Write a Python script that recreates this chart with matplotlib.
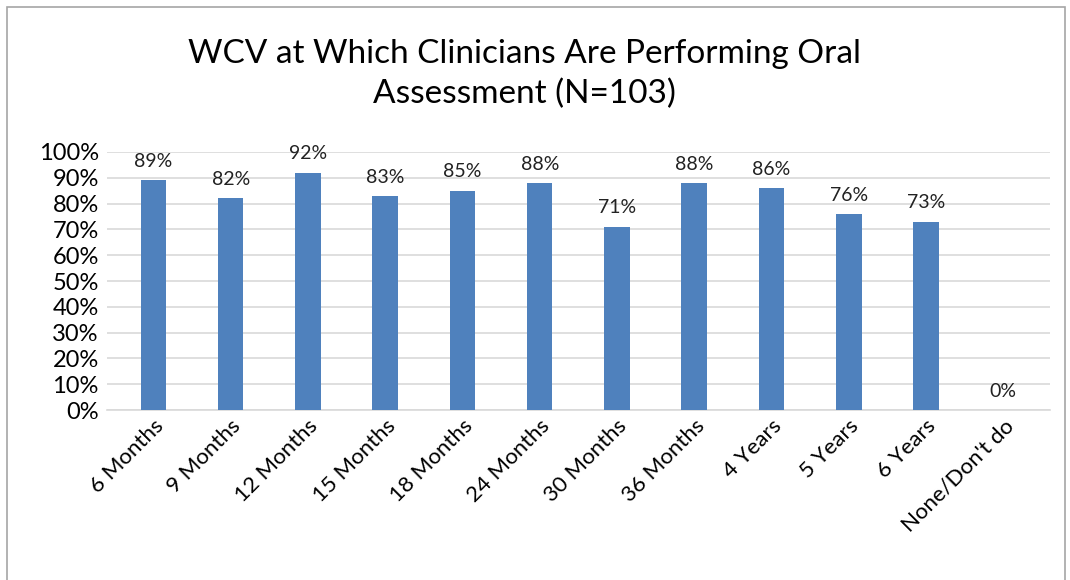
import matplotlib
matplotlib.use("Agg")
import matplotlib.pyplot as plt
import matplotlib.patches as mpatches
from matplotlib.ticker import PercentFormatter
import numpy as np

plt.rcParams["font.family"] = ["Lato", "DejaVu Sans"]

# data
categories = ["6 Months", "9 Months", "12 Months", "15 Months", "18 Months",
              "24 Months", "30 Months", "36 Months", "4 Years", "5 Years",
              "6 Years", "None/Don't do"]
values = [89, 82, 92, 83, 85, 88, 71, 88, 86, 76, 73, 0]

BAR_COLOR = "#4F81BD"
GRID_COLOR = "#D9D9D9"

fig = plt.figure(figsize=(10.7, 5.8), dpi=100)
fig.patch.set_facecolor("white")
ax = fig.add_axes([0.1, 0.293, 0.881, 0.445])

x = np.arange(len(categories))
ax.bar(x, values, width=0.33, color=BAR_COLOR, zorder=3)

for xi, v in zip(x, values):
    ax.text(xi, v + 4, f"{v}%", ha="center", va="bottom", fontsize=14, color="#222222")

ax.set_ylim(0, 100)
ax.set_xlim(-0.6, len(categories) - 0.4)
ax.set_yticks(np.arange(0, 101, 10))
ax.yaxis.set_major_formatter(PercentFormatter(decimals=0))
ax.tick_params(axis="y", length=0, labelsize=17, pad=6)
ax.tick_params(axis="x", length=0, labelsize=16, pad=4)
ax.set_xticks(x)
ax.set_xticklabels(categories, rotation=45, ha="right", rotation_mode="anchor")

ax.grid(axis="y", color=GRID_COLOR, linewidth=1.2, zorder=0)
for s in ["top", "right", "left"]:
    ax.spines[s].set_visible(False)
ax.spines["bottom"].set_color(GRID_COLOR)
ax.spines["bottom"].set_linewidth(1.2)

fig.text(0.49, 0.872, "WCV at Which Clinicians Are Performing Oral\nAssessment (N=103)",
         ha="center", va="center", fontsize=24, linespacing=1.4)

# chart border
fig.patches.append(mpatches.Rectangle((0.007, -0.01), 0.988, 0.998, transform=fig.transFigure,
                                      fill=False, edgecolor="#A6A6A6", linewidth=1.2))

fig.savefig("out.png", dpi=100, facecolor="white")
